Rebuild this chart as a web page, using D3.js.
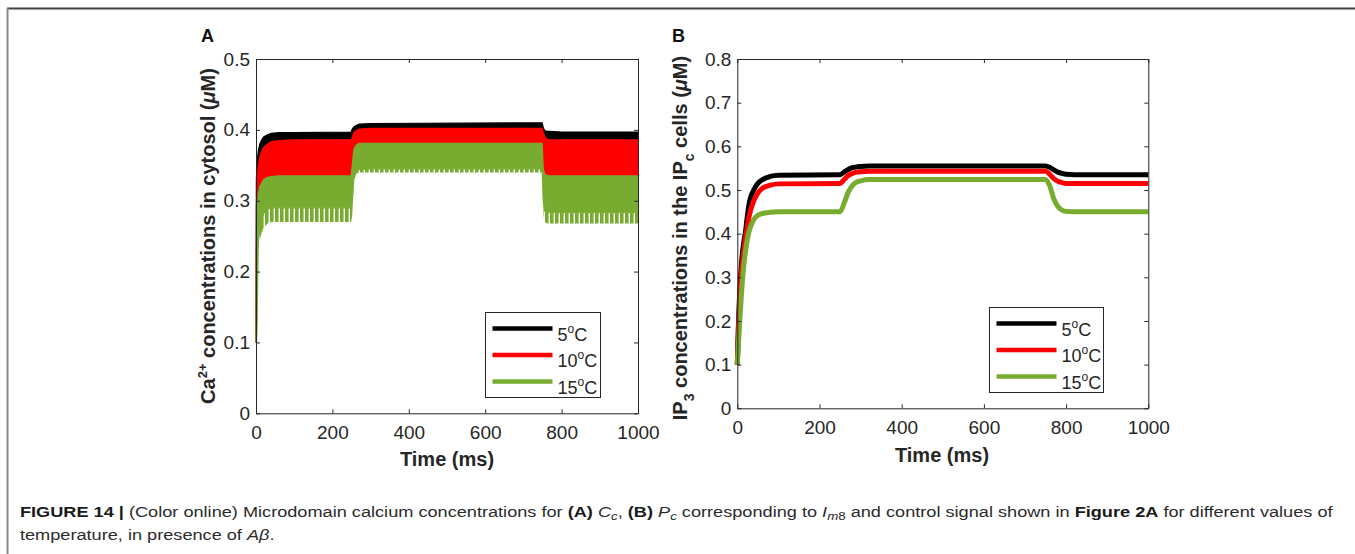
<!DOCTYPE html>
<html>
<head>
<meta charset="utf-8">
<script src="https://cdn.jsdelivr.net/npm/d3@7"></script>
<style>
body { margin: 0; background: #fff; }
</style>
</head>
<body>
<div id="fig"></div>
<script>
// values
var temps = ["5", "10", "15"];
var colors = ["#000000", "#ff0000", "#77ac30"];

var xTicks = [0, 200, 400, 600, 800, 1000];
var yTicksA = [0, 0.1, 0.2, 0.3, 0.4, 0.5];
var yTicksB = [0, 0.1, 0.2, 0.3, 0.4, 0.5, 0.6, 0.7, 0.8];

// panel A: the traces oscillate fast, so keep the upper / lower envelope
var timeA = [0, 1, 3, 6, 10, 15, 20, 30, 40, 60, 100, 249, 252, 256, 262, 270, 300, 749, 752, 756, 762, 770, 800, 1000];
var blackHiA = [0.10, 0.33, 0.355, 0.37, 0.38, 0.386, 0.39, 0.393, 0.395, 0.396, 0.396, 0.397, 0.401, 0.404, 0.406, 0.408, 0.409, 0.410, 0.403, 0.399, 0.398, 0.398, 0.397, 0.397];
var blackLoA = [0.10, 0.20, 0.32, 0.35, 0.365, 0.372, 0.376, 0.38, 0.382, 0.384, 0.385, 0.385, 0.388, 0.393, 0.396, 0.398, 0.399, 0.400, 0.394, 0.388, 0.386, 0.386, 0.385, 0.385];
var redHiA = [0.10, 0.29, 0.33, 0.35, 0.362, 0.37, 0.375, 0.38, 0.383, 0.385, 0.386, 0.386, 0.39, 0.396, 0.399, 0.401, 0.402, 0.402, 0.396, 0.39, 0.387, 0.386, 0.386, 0.386];
var redLoA = [0.10, 0.10, 0.25, 0.29, 0.31, 0.32, 0.325, 0.33, 0.332, 0.333, 0.334, 0.334, 0.34, 0.345, 0.347, 0.348, 0.348, 0.348, 0.34, 0.336, 0.335, 0.334, 0.334, 0.334];
var greenHiA = [0.10, 0.20, 0.28, 0.31, 0.32, 0.325, 0.33, 0.333, 0.334, 0.335, 0.335, 0.335, 0.35, 0.372, 0.378, 0.381, 0.381, 0.381, 0.345, 0.337, 0.336, 0.335, 0.335, 0.335];
var greenLoA = [0.10, 0.10, 0.14, 0.24, 0.26, 0.275, 0.282, 0.288, 0.29, 0.29, 0.29, 0.29, 0.30, 0.33, 0.342, 0.344, 0.345, 0.345, 0.30, 0.285, 0.283, 0.283, 0.283, 0.283];
var greenTipA = [0.10, 0.10, 0.10, 0.228, 0.245, 0.255, 0.262, 0.268, 0.27, 0.27, 0.27, 0.27, 0.28, 0.325, 0.338, 0.34, 0.34, 0.34, 0.28, 0.27, 0.268, 0.268, 0.268, 0.268];

// panel B: smooth traces
var timeB = [0, 3, 6, 10, 15, 20, 25, 30, 40, 50, 60, 80, 100, 250, 260, 270, 280, 290, 300, 320, 750, 760, 770, 780, 790, 800, 820, 1000];
var blackB = [0.10, 0.20, 0.27, 0.33, 0.375, 0.405, 0.445, 0.475, 0.50, 0.515, 0.523, 0.531, 0.534, 0.535, 0.541, 0.547, 0.551, 0.553, 0.554, 0.555, 0.555, 0.552, 0.546, 0.541, 0.538, 0.536, 0.535, 0.535];
var redB = [0.10, 0.19, 0.25, 0.31, 0.355, 0.39, 0.42, 0.445, 0.475, 0.493, 0.503, 0.511, 0.514, 0.515, 0.524, 0.533, 0.538, 0.541, 0.542, 0.543, 0.543, 0.536, 0.526, 0.52, 0.517, 0.515, 0.515, 0.515];
var greenB = [0.10, 0.15, 0.20, 0.26, 0.32, 0.36, 0.39, 0.41, 0.432, 0.442, 0.446, 0.449, 0.45, 0.45, 0.47, 0.495, 0.51, 0.518, 0.521, 0.524, 0.524, 0.51, 0.48, 0.462, 0.454, 0.451, 0.45, 0.45];

var W = 1355, H = 554;
var axisColor = "#262626";
var font = "'Liberation Sans', Arial, Helvetica, sans-serif";

var svg = d3.select("#fig").append("svg")
  .attr("width", W)
  .attr("height", H)
  .style("font-family", font);

// stripes for the comb-like lower edge of the green trace
var defs = svg.append("defs");
var pat = defs.append("pattern")
  .attr("id", "comb")
  .attr("patternUnits", "userSpaceOnUse")
  .attr("width", 5)
  .attr("height", 10);
pat.append("rect")
  .attr("width", 3.6)
  .attr("height", 10)
  .attr("fill", colors[2]);

// frame round the figure
svg.append("line")
  .attr("x1", 7).attr("x2", W).attr("y1", 8.5).attr("y2", 8.5)
  .attr("stroke", "#444").attr("stroke-width", 2);
svg.append("line")
  .attr("x1", 7.5).attr("x2", 7.5).attr("y1", 8).attr("y2", H)
  .attr("stroke", "#888").attr("stroke-width", 2);

function drawAxes(x, y, yTicks) {
  var g = svg.append("g");
  g.append("g")
    .attr("transform", "translate(0," + y.range()[0] + ")")
    .call(d3.axisBottom(x).tickValues(xTicks).tickSizeInner(-4).tickSizeOuter(0).tickPadding(12)
      .tickFormat(d3.format("d")));
  g.append("g")
    .attr("transform", "translate(0," + y.range()[1] + ")")
    .call(d3.axisTop(x).tickValues(xTicks).tickSizeInner(-4).tickSizeOuter(0).tickFormat(""));
  g.append("g")
    .attr("transform", "translate(" + x.range()[0] + ",0)")
    .call(d3.axisLeft(y).tickValues(yTicks).tickSizeInner(-4).tickSizeOuter(0).tickPadding(6)
      .tickFormat(function (d) { return d === 0 ? "0" : d3.format(".1f")(d); }));
  g.append("g")
    .attr("transform", "translate(" + x.range()[1] + ",0)")
    .call(d3.axisRight(y).tickValues(yTicks).tickSizeInner(-4).tickSizeOuter(0).tickFormat(""));
  g.selectAll(".domain, .tick line").attr("stroke", axisColor);
  g.selectAll(".tick text")
    .attr("fill", axisColor)
    .style("font-size", "19px")
    .style("font-family", font);
  return g;
}

function drawLegend(x0, y0, w, h) {
  var lg = svg.append("g").attr("transform", "translate(" + x0 + "," + y0 + ")");
  lg.append("rect")
    .attr("x", 0).attr("y", 0).attr("width", w).attr("height", h)
    .attr("fill", "#fff").attr("stroke", axisColor).attr("stroke-width", 1);
  temps.forEach(function (t, i) {
    var ly = 16 + i * 26.5;
    lg.append("line")
      .attr("x1", 7).attr("x2", 67).attr("y1", ly).attr("y2", ly)
      .attr("stroke", colors[i]).attr("stroke-width", 4.5);
    var tx = lg.append("text")
      .attr("x", 72).attr("y", ly + 12)
      .attr("fill", axisColor)
      .style("font-size", "18px");
    tx.append("tspan").text(t);
    tx.append("tspan").attr("dy", -8).style("font-size", "12px").text("o");
    tx.append("tspan").attr("dy", 8).text("C");
  });
}

// ---------- panel A ----------
var xA = d3.scaleLinear().domain([0, 1000]).range([256, 638]);
var yA = d3.scaleLinear().domain([0, 0.5]).range([413.3, 59]);

var bandsA = [
  { hi: blackHiA, lo: blackLoA, fill: colors[0] },
  { hi: redHiA, lo: redLoA, fill: colors[1] },
  { hi: greenHiA, lo: greenLoA, fill: colors[2] },
  { hi: greenLoA, lo: greenTipA, fill: "url(#comb)" }
];
var areaA = function (b) {
  return d3.area()
    .x(function (d, i) { return xA(timeA[i]); })
    .y0(function (d, i) { return yA(b.lo[i]); })
    .y1(function (d, i) { return yA(b.hi[i]); })(timeA);
};
var gA = svg.append("g");
bandsA.forEach(function (b) {
  gA.append("path")
    .attr("d", areaA(b))
    .attr("fill", b.fill)
    .attr("stroke", b.fill === "url(#comb)" ? "none" : b.fill)
    .attr("stroke-width", 1.2);
});
drawAxes(xA, yA, yTicksA);
drawLegend(485.5, 312.5, 115, 85);

// ---------- panel B ----------
var xB = d3.scaleLinear().domain([0, 1000]).range([737.3, 1148.3]);
var yB = d3.scaleLinear().domain([0, 0.8]).range([408.3, 59]);

var lineB = d3.line()
  .x(function (d, i) { return xB(timeB[i]); })
  .y(function (d) { return yB(d); })
  .curve(d3.curveMonotoneX);
var gB = svg.append("g");
[blackB, redB, greenB].forEach(function (s, i) {
  gB.append("path")
    .attr("d", lineB(s))
    .attr("fill", "none")
    .attr("stroke", colors[i])
    .attr("stroke-width", 5)
    .attr("stroke-linejoin", "round");
});
drawAxes(xB, yB, yTicksB);
drawLegend(989.5, 307.5, 114, 85);

// ---------- labels ----------
function panelLetter(x, y, s) {
  svg.append("text")
    .attr("x", x).attr("y", y)
    .attr("fill", "#111")
    .style("font-size", "18px")
    .style("font-weight", "bold")
    .text(s);
}
panelLetter(201, 42, "A");
panelLetter(672, 42, "B");

function xLabel(x, y) {
  svg.append("text")
    .attr("x", x).attr("y", y)
    .attr("text-anchor", "middle")
    .attr("fill", axisColor)
    .style("font-size", "20px")
    .style("font-weight", "bold")
    .text("Time (ms)");
}
xLabel(447, 466);
xLabel(942, 462);

var yLabA = svg.append("text")
  .attr("transform", "translate(215,236) rotate(-90)")
  .attr("text-anchor", "middle")
  .attr("fill", axisColor)
  .style("font-size", "20px")
  .style("font-weight", "bold");
yLabA.append("tspan").text("Ca");
yLabA.append("tspan").attr("dy", -8).style("font-size", "13px").text("2+");
yLabA.append("tspan").attr("dy", 8).text(" concentrations in cytosol (");
yLabA.append("tspan").style("font-style", "italic").text("\u03bc");
yLabA.append("tspan").text("M)");

var yLabB = svg.append("text")
  .attr("transform", "translate(687,238) rotate(-90)")
  .attr("text-anchor", "middle")
  .attr("fill", axisColor)
  .style("font-size", "20px")
  .style("font-weight", "bold");
yLabB.append("tspan").text("IP");
yLabB.append("tspan").attr("dy", 7).style("font-size", "14px").text("3");
yLabB.append("tspan").attr("dy", -7).text(" concentrations in the IP");
yLabB.append("tspan").attr("dy", 7).style("font-size", "14px").text("c");
yLabB.append("tspan").attr("dy", -7).text(" cells (");
yLabB.append("tspan").style("font-style", "italic").text("\u03bc");
yLabB.append("tspan").text("M)");

// ---------- caption ----------
var capFont = "'Liberation Sans Narrow', 'Liberation Sans', Arial, sans-serif";
var capColor = "#2b2b2b";
function part(t, s, opt) {
  var sp = t.append("tspan").text(s);
  opt = opt || {};
  if (opt.b) sp.style("font-weight", "bold").attr("fill", "#1a1a1a");
  if (opt.i) sp.style("font-style", "italic");
  if (opt.dy) sp.attr("dy", opt.dy);
  if (opt.fs) sp.style("font-size", opt.fs);
  return sp;
}
var cap1 = svg.append("text")
  .attr("x", 20).attr("y", 517)
  .attr("fill", capColor)
  .style("font-family", capFont)
  .style("font-size", "15px");
part(cap1, "FIGURE 14 |", { b: true });
part(cap1, " (Color online) Microdomain calcium concentrations for ");
part(cap1, "(A)", { b: true });
part(cap1, " ");
part(cap1, "C", { i: true });
part(cap1, "c", { i: true, dy: 3, fs: "11px" });
part(cap1, ", ", { dy: -3 });
part(cap1, "(B)", { b: true });
part(cap1, " ");
part(cap1, "P", { i: true });
part(cap1, "c", { i: true, dy: 3, fs: "11px" });
part(cap1, " corresponding to ", { dy: -3 });
part(cap1, "I", { i: true });
part(cap1, "m", { i: true, dy: 3, fs: "11px" });
part(cap1, "8", { fs: "11px" });
part(cap1, " and control signal shown in ", { dy: -3 });
part(cap1, "Figure 2A", { b: true });
part(cap1, " for different values of");

var cap2 = svg.append("text")
  .attr("x", 20).attr("y", 540)
  .attr("fill", capColor)
  .style("font-family", capFont)
  .style("font-size", "15px");
part(cap2, "temperature, in presence of ");
part(cap2, "A\u03b2", { i: true });
part(cap2, ".");

// squeeze the caption to the printed line width
var len1 = cap1.node().getComputedTextLength();
var sx = 1314 / len1;
[cap1, cap2].forEach(function (t) {
  t.attr("transform", "translate(20,0) scale(" + sx + ",1) translate(-20,0)");
});
</script>
</body>
</html>
